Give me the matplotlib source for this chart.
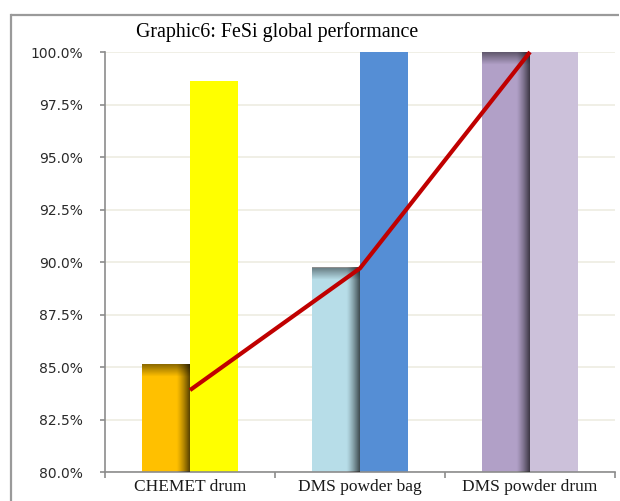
import numpy as np
import matplotlib
matplotlib.use("Agg")
import matplotlib.pyplot as plt
from matplotlib.lines import Line2D
from matplotlib.ticker import FuncFormatter, FixedLocator

categories = ["CHEMET drum", "DMS powder bag", "DMS powder drum"]
first_series = [0.8514, 0.8973, 1.000]
second_series = [0.9862, 1.000, 1.000]
trend_values = [0.839, 0.897, 1.000]
y_ticks = [0.80, 0.825, 0.85, 0.875, 0.90, 0.925, 0.95, 0.975, 1.00]

first_colors = ["#FFC000", "#B7DDE8", "#B1A0C7"]
second_colors = ["#FFFF00", "#558ED5", "#CCC1DA"]

W, H = 620, 501
fig = plt.figure(figsize=(W / 100, H / 100), dpi=100)

# outer chart frame (left and top edges)
fx, fy = 11 / W, 1 - 15 / H
fig.add_artist(Line2D([fx, fx], [-0.05, fy], transform=fig.transFigure, color="#9A9A9A", linewidth=1.6))
fig.add_artist(Line2D([fx, 0.999], [fy, fy], transform=fig.transFigure, color="#9A9A9A", linewidth=1.6,
                      solid_capstyle="butt"))

ax = fig.add_axes([105 / W, (H - 472) / H, 510 / W, 420 / H])
ymin, ymax = 0.80, 1.00

x = np.arange(len(categories))
bw = 48 / 170
bars1 = ax.bar(x - bw / 2, first_series, bw, color=first_colors, zorder=2)
bars2 = ax.bar(x + bw / 2, second_series, bw, color=second_colors, zorder=2)

# bevel-like shading on the first bar of each pair
nx = 64
ramp = np.clip((np.linspace(0, 1, nx) - 0.72) / 0.28, 0, 1) ** 1.3
for b in bars1:
    x0, w = b.get_x(), b.get_width()
    y0, y1 = max(b.get_y(), ymin), b.get_y() + b.get_height()
    img = np.zeros((1, nx, 4))
    img[..., 3] = ramp * 0.65
    ax.imshow(img, extent=(x0, x0 + w, y0, y1), aspect="auto", zorder=3,
              interpolation="bilinear")
    th = min(y1 - y0, 0.006)
    top = np.zeros((16, 1, 4))
    top[:, 0, 3] = np.linspace(0.45, 0.0, 16)
    ax.imshow(top, extent=(x0, x0 + w, y1 - th, y1), aspect="auto", zorder=3,
              interpolation="bilinear", origin="upper")
ax.set_xlim(-0.5, 2.5)
ax.set_ylim(ymin, ymax)

ax.plot(x, trend_values, color="#C00000", linewidth=3, zorder=4, solid_capstyle="butt",
        clip_on=False)

ax.yaxis.set_major_locator(FixedLocator(y_ticks))
ax.yaxis.set_major_formatter(FuncFormatter(lambda v, p: f"{v * 100:.1f}%"))
ax.grid(axis="y", color="#EEECE1", linewidth=1.2, zorder=0)
ax.set_axisbelow(True)

ax.set_xticks(x)
ax.set_xticklabels(categories, fontfamily="Liberation Serif", fontsize=12.5, color="#1a1a1a")
ax.set_xticks([-0.5, 0.5, 1.5, 2.5], minor=True)
ax.tick_params(axis="x", which="major", length=0, pad=5)
ax.tick_params(axis="x", which="minor", length=4, color="#8C8C8C", width=1.2)
ax.tick_params(axis="y", length=3.6, color="#8C8C8C", width=1.2, labelsize=10,
               labelcolor="#2a2a2a", pad=12.5)

for s in ["top", "right"]:
    ax.spines[s].set_visible(False)
for s in ["left", "bottom"]:
    ax.spines[s].set_color("#8C8C8C")
    ax.spines[s].set_linewidth(1.2)

fig.text(277 / W, 1 - 32 / H, "Graphic6: FeSi global performance", ha="center", va="center",
         fontfamily="Liberation Serif", fontsize=14.3)

fig.savefig("out.png", dpi=100)
